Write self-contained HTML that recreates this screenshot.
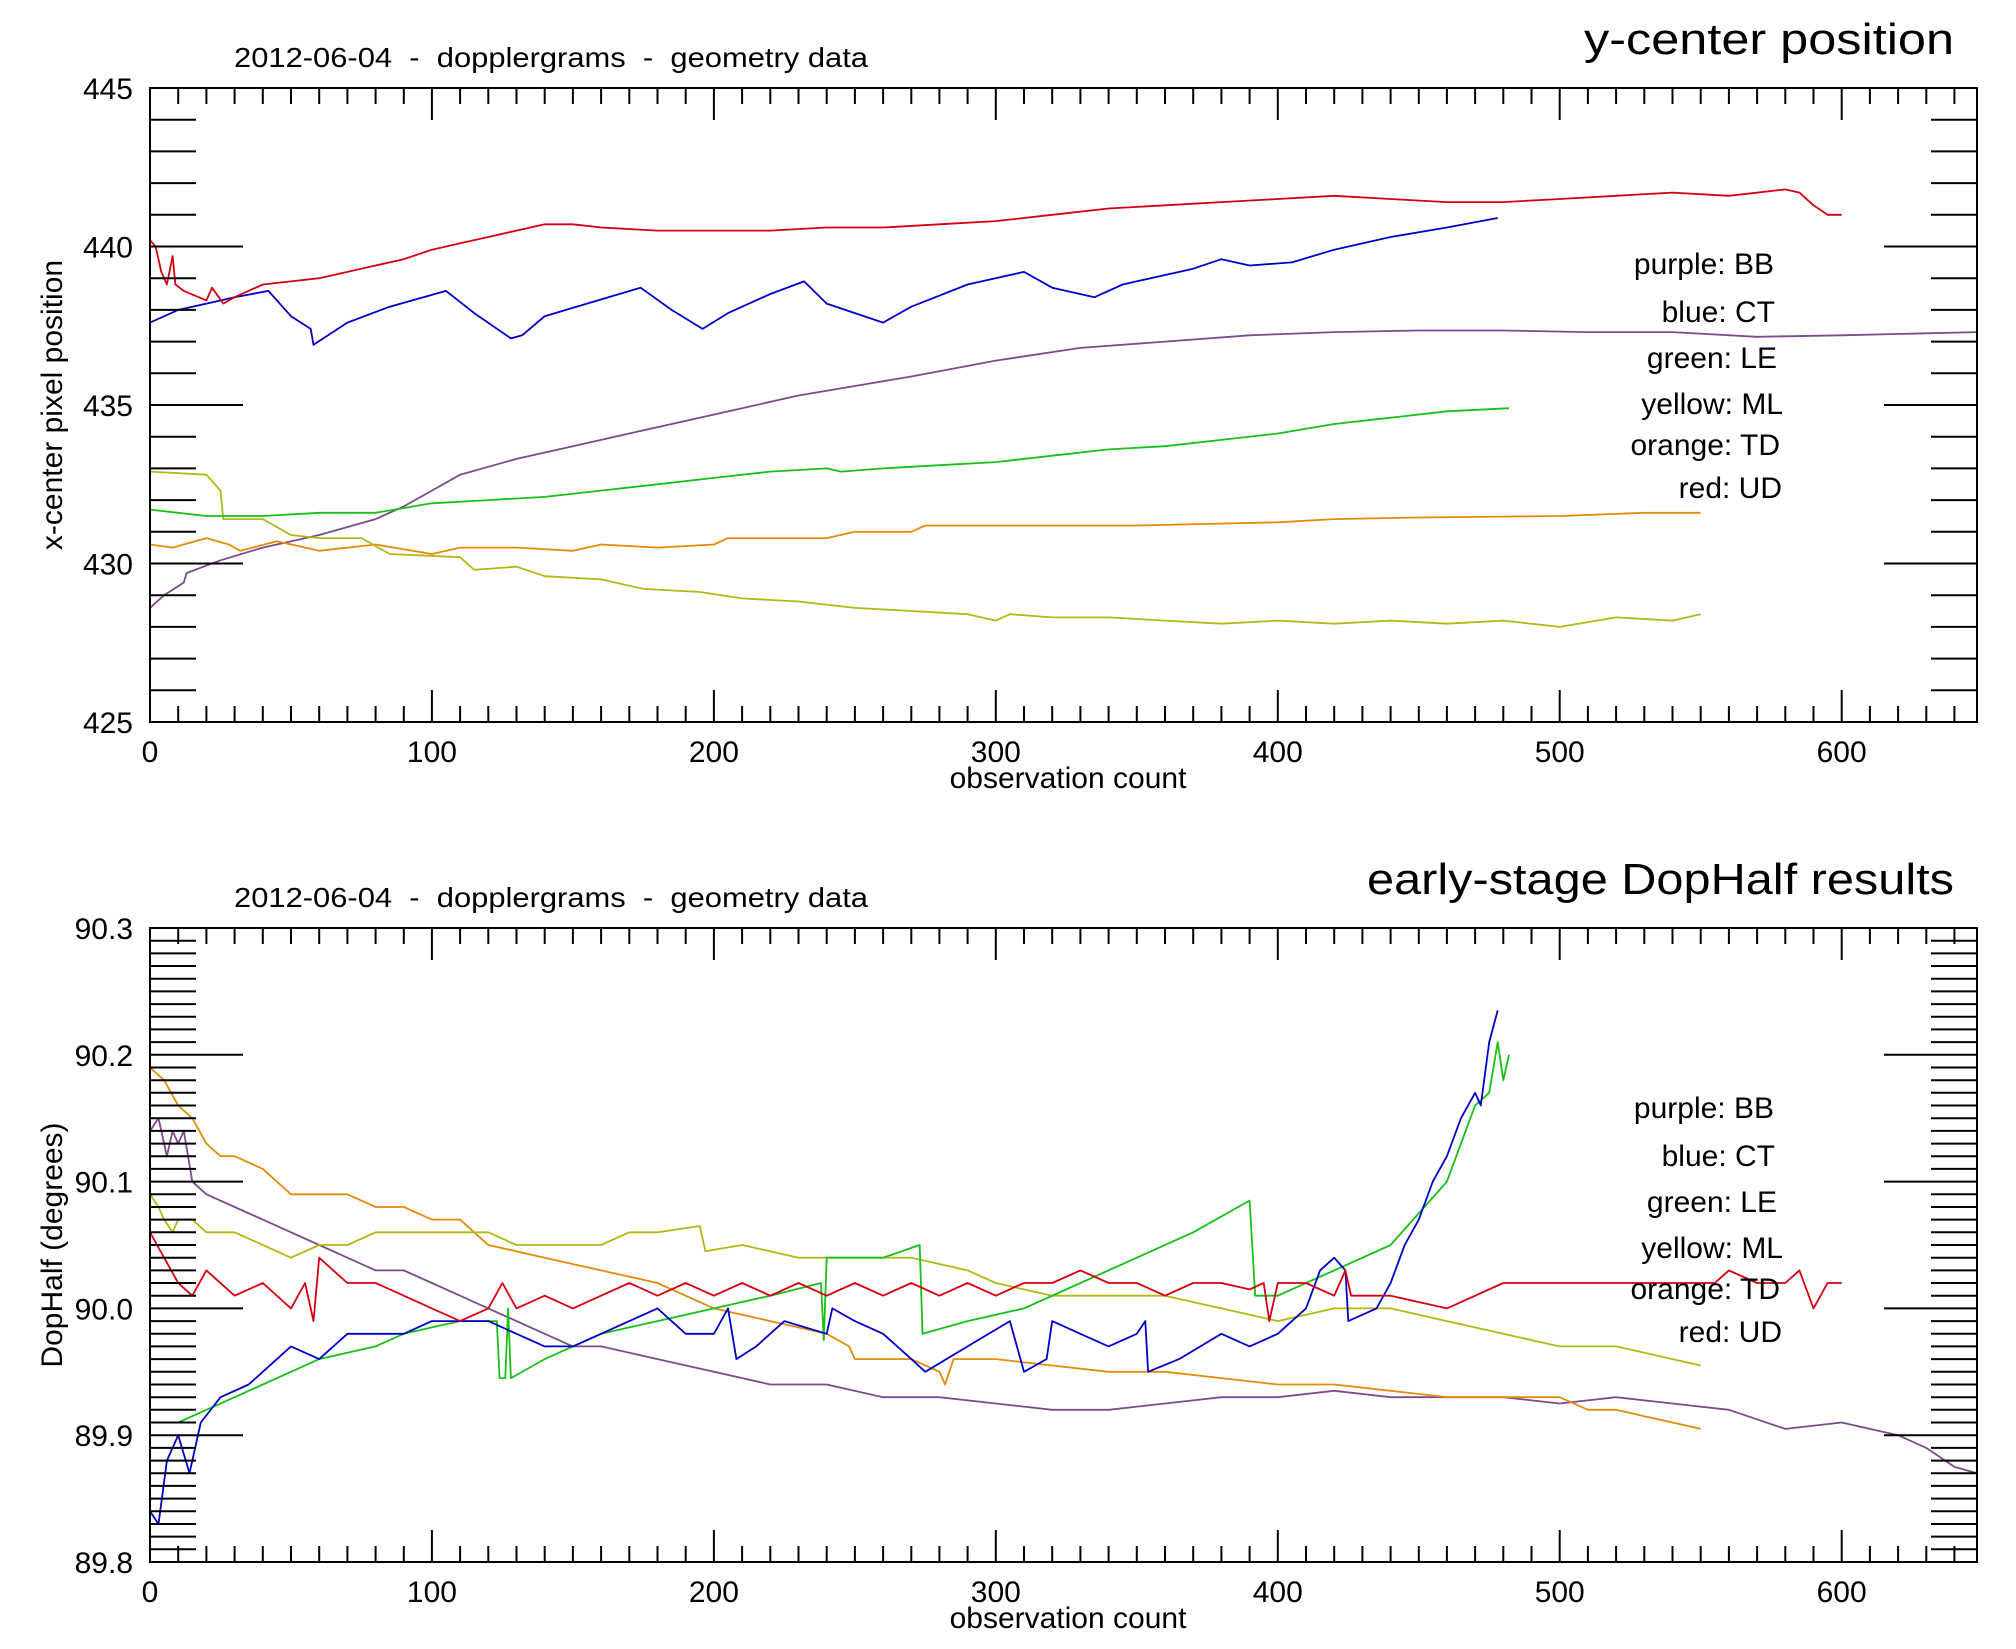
<!DOCTYPE html>
<html><head><meta charset="utf-8"><style>
html,body{margin:0;padding:0;background:#fff;}
svg{display:block;font-family:"Liberation Sans",sans-serif;}
</style></head><body>
<svg id="chart" width="2016" height="1649" viewBox="0 0 2016 1649" xmlns="http://www.w3.org/2000/svg"></svg>
<script>
// ---------- DATA ----------
const xTicks = [0,100,200,300,400,500,600];
const topYTicks = [425,430,435,440,445];
const botYTickVals = [89.8,89.9,90.0,90.1,90.2,90.3];
const botYTickLabels = ["89.8","89.9","90.0","90.1","90.2","90.3"];
const legendLabels = ["purple: BB","blue: CT","green: LE","yellow: ML","orange: TD","red: UD"];

const topRedX = [0,2,4,6,8,9,12,20,22,26,30,40,50,60,70,80,90,100,110,120,130,140,150,160,180,200,220,240,260,280,300,320,340,360,380,400,420,440,460,480,500,520,540,560,580,585,590,595,600];
const topRedY = [440.2,440.0,439.2,438.8,439.7,438.8,438.6,438.3,438.7,438.2,438.4,438.8,438.9,439.0,439.2,439.4,439.6,439.9,440.1,440.3,440.5,440.7,440.7,440.6,440.5,440.5,440.5,440.6,440.6,440.7,440.8,441.0,441.2,441.3,441.4,441.5,441.6,441.5,441.4,441.4,441.5,441.6,441.7,441.6,441.8,441.7,441.3,441.0,441.0];
const topBlueX = [0,10,20,30,42,50,57,58,70,85,105,115,128,132,140,155,174,185,196,205,220,232,240,260,270,290,310,320,335,345,370,380,390,405,420,440,460,478];
const topBlueY = [437.6,438.0,438.2,438.4,438.6,437.8,437.4,436.9,437.6,438.1,438.6,437.9,437.1,437.2,437.8,438.2,438.7,438.0,437.4,437.9,438.5,438.9,438.2,437.6,438.1,438.8,439.2,438.7,438.4,438.8,439.3,439.6,439.4,439.5,439.9,440.3,440.6,440.9];
const topPurpleX = [0,5,12,13,25,40,60,80,90,100,110,130,150,170,190,210,230,250,270,300,330,360,390,420,450,480,510,540,570,600,648];
const topPurpleY = [428.6,429.0,429.4,429.7,430.1,430.5,430.9,431.4,431.8,432.3,432.8,433.3,433.7,434.1,434.5,434.9,435.3,435.6,435.9,436.4,436.8,437.0,437.2,437.3,437.35,437.35,437.3,437.3,437.15,437.2,437.3];
const topGreenX = [0,10,20,40,60,80,100,120,140,160,180,200,220,240,245,260,280,300,320,340,360,380,400,420,440,460,482];
const topGreenY = [431.7,431.6,431.5,431.5,431.6,431.6,431.9,432.0,432.1,432.3,432.5,432.7,432.9,433.0,432.9,433.0,433.1,433.2,433.4,433.6,433.7,433.9,434.1,434.4,434.6,434.8,434.9];
const topOrangeX = [0,8,20,28,32,45,60,80,100,110,130,150,160,180,200,205,240,250,270,275,300,350,400,420,450,500,530,550];
const topOrangeY = [430.6,430.5,430.8,430.6,430.4,430.7,430.4,430.6,430.3,430.5,430.5,430.4,430.6,430.5,430.6,430.8,430.8,431.0,431.0,431.2,431.2,431.2,431.3,431.4,431.45,431.5,431.6,431.6];
const topYellowX = [0,20,25,26,40,50,60,75,85,110,115,130,140,160,175,195,210,230,250,270,290,300,305,320,340,360,380,400,420,440,460,480,500,520,540,550];
const topYellowY = [432.9,432.8,432.3,431.4,431.4,430.9,430.8,430.8,430.3,430.2,429.8,429.9,429.6,429.5,429.2,429.1,428.9,428.8,428.6,428.5,428.4,428.2,428.4,428.3,428.3,428.2,428.1,428.2,428.1,428.2,428.1,428.2,428.0,428.3,428.2,428.4];

const botRedX = [0,5,10,15,20,30,40,50,55,58,60,65,70,80,90,100,110,120,125,130,140,150,160,170,180,190,200,210,220,230,240,250,260,270,280,290,300,310,320,330,340,350,360,370,380,390,395,397,400,410,420,424,426,440,460,480,500,520,540,555,560,570,580,585,590,595,600];
const botRedY = [90.06,90.04,90.02,90.01,90.03,90.01,90.02,90.0,90.02,89.99,90.04,90.03,90.02,90.02,90.01,90.0,89.99,90.0,90.02,90.0,90.01,90.0,90.01,90.02,90.01,90.02,90.01,90.02,90.01,90.02,90.01,90.02,90.01,90.02,90.01,90.02,90.01,90.02,90.02,90.03,90.02,90.02,90.01,90.02,90.02,90.015,90.02,89.99,90.02,90.02,90.01,90.03,90.01,90.01,90.0,90.02,90.02,90.02,90.02,90.02,90.03,90.02,90.02,90.03,90.0,90.02,90.02];
const botBlueX = [0,3,6,10,14,18,25,35,45,50,60,70,80,90,100,110,120,130,140,150,160,170,180,190,200,205,208,215,225,240,242,250,260,270,275,290,305,310,318,320,330,340,350,353,354,365,380,390,400,410,415,420,424,425,435,440,445,450,455,460,465,470,472,475,478];
const botBlueY = [89.84,89.83,89.88,89.9,89.87,89.91,89.93,89.94,89.96,89.97,89.96,89.98,89.98,89.98,89.99,89.99,89.99,89.98,89.97,89.97,89.98,89.99,90.0,89.98,89.98,90.0,89.96,89.97,89.99,89.98,90.0,89.99,89.98,89.96,89.95,89.97,89.99,89.95,89.96,89.99,89.98,89.97,89.98,89.99,89.95,89.96,89.98,89.97,89.98,90.0,90.03,90.04,90.03,89.99,90.0,90.02,90.05,90.07,90.1,90.12,90.15,90.17,90.16,90.21,90.235];
const botGreenX = [0,10,20,30,40,50,60,70,80,90,100,110,120,123,124,126,127,128,140,150,160,170,180,200,220,238,239,240,260,273,274,290,310,330,350,370,390,392,400,420,440,460,470,475,478,480,482];
const botGreenY = [89.91,89.91,89.92,89.93,89.94,89.95,89.96,89.965,89.97,89.98,89.985,89.99,89.99,89.99,89.945,89.945,90.0,89.945,89.96,89.97,89.98,89.985,89.99,90.0,90.01,90.02,89.975,90.04,90.04,90.05,89.98,89.99,90.0,90.02,90.04,90.06,90.085,90.01,90.01,90.03,90.05,90.1,90.16,90.17,90.21,90.18,90.2];
const botYellowX = [0,3,5,8,10,15,20,30,40,50,60,70,80,90,100,110,120,130,140,150,160,170,180,195,197,210,230,250,270,290,300,320,340,360,380,400,420,440,460,480,500,520,540,550];
const botYellowY = [90.09,90.08,90.07,90.06,90.07,90.07,90.06,90.06,90.05,90.04,90.05,90.05,90.06,90.06,90.06,90.06,90.06,90.05,90.05,90.05,90.05,90.06,90.06,90.065,90.045,90.05,90.04,90.04,90.04,90.03,90.02,90.01,90.01,90.01,90.0,89.99,90.0,90.0,89.99,89.98,89.97,89.97,89.96,89.955];
const botOrangeX = [0,5,10,15,20,25,30,40,50,60,70,80,90,100,110,120,140,160,180,200,220,240,248,250,270,280,282,285,300,320,340,360,380,400,420,440,460,480,500,510,520,530,540,550];
const botOrangeY = [90.19,90.18,90.16,90.15,90.13,90.12,90.12,90.11,90.09,90.09,90.09,90.08,90.08,90.07,90.07,90.05,90.04,90.03,90.02,90.0,89.99,89.98,89.97,89.96,89.96,89.95,89.94,89.96,89.96,89.955,89.95,89.95,89.945,89.94,89.94,89.935,89.93,89.93,89.93,89.92,89.92,89.915,89.91,89.905];
const botPurpleX = [0,3,6,8,10,12,15,20,30,40,50,60,70,80,90,100,110,120,130,140,150,160,180,200,220,240,260,280,300,320,340,360,380,400,420,440,460,480,500,520,540,560,580,600,620,630,640,648];
const botPurpleY = [90.14,90.15,90.12,90.14,90.13,90.14,90.1,90.09,90.08,90.07,90.06,90.05,90.04,90.03,90.03,90.02,90.01,90.0,89.99,89.98,89.97,89.97,89.96,89.95,89.94,89.94,89.93,89.93,89.925,89.92,89.92,89.925,89.93,89.93,89.935,89.93,89.93,89.93,89.925,89.93,89.925,89.92,89.905,89.91,89.9,89.89,89.875,89.87];

// ---------- DRAW ----------
const NS = "http://www.w3.org/2000/svg";
const svg = document.getElementById("chart");
const X0 = 150, X1 = 1977, XMAX = 648;
const COL = {red:"#d40010",blue:"#0000c8",purple:"#7e4a8c",green:"#18c018",orange:"#e48c0a",yellow:"#b4b814"};
function mk(tag, attrs, parent){const e=document.createElementNS(NS,tag);for(const k in attrs)e.setAttribute(k,attrs[k]);(parent||svg).appendChild(e);return e;}
function xs(v){return X0 + v/XMAX*(X1-X0);}

function panel(name, top, bot, ymin, ymax, minorStep, majorVals, majorLabels, yTitle, bigTitle, bigW, series, legendBase){
  const g = mk("g",{});
  
  
  const ys = v => bot - (v-ymin)/(ymax-ymin)*(bot-top);
  const cid = name+"-clip";
  const cp = mk("clipPath",{id:cid},g); mk("rect",{x:X0,y:top,width:X1-X0,height:bot-top},cp);
  const sg = mk("g",{"clip-path":"url(#"+cid+")"},g);
  series.forEach(s=>{
    let d="";
    for(let i=0;i<s.x.length;i++) d+=(i?"L":"M")+xs(s.x[i]).toFixed(1)+","+ys(s.y[i]).toFixed(1);
    const p = mk("path",{d:d,fill:"none",stroke:s.c,"stroke-width":"1.8","stroke-linejoin":"round"},sg);
    
    
  });
  const fr = mk("rect",{x:X0,y:top,width:X1-X0,height:bot-top,fill:"none",stroke:"#000","stroke-width":"2"},g);
  
  
  let td="";
  for(let v=0; v<=XMAX; v+=10){
    const L = (v%100===0)?32:16, x=xs(v).toFixed(1);
    td+="M"+x+","+bot+"v"+(-L)+"M"+x+","+top+"v"+L;
  }
  const nSteps = Math.round((ymax-ymin)/minorStep);
  for(let i=0;i<=nSteps;i++){
    const v=ymin+i*minorStep, y=ys(v).toFixed(1);
    const isMaj = majorVals.some(m=>Math.abs(m-v)<minorStep/10);
    const L = isMaj?93:46;
    td+="M"+X0+","+y+"h"+L+"M"+X1+","+y+"h"+(-L);
  }
  mk("path",{d:td,stroke:"#000","stroke-width":"2",fill:"none"},g);
  xTicks.forEach(v=>{
    const t=mk("text",{x:xs(v),y:bot+40,"font-size":"30","text-anchor":"middle"},g); t.textContent=v;
    
    
  });
  majorLabels.forEach((lab,i)=>{
    const t=mk("text",{x:133,y:ys(majorVals[i])+11,"font-size":"30","text-anchor":"end"},g); t.textContent=lab;
    
    
  });
  const xt=mk("text",{x:1068,y:bot+66,"font-size":"30","text-anchor":"middle"},g); xt.textContent="observation count";
  
  
  const cy=(top+bot)/2;
  const yt=mk("text",{x:62,y:cy,"font-size":"30","text-anchor":"middle",transform:"rotate(-90 62 "+cy+")"},g); yt.textContent=yTitle;
  
  
  const st=mk("text",{x:234,y:top-21,"font-size":"28",textLength:"634",lengthAdjust:"spacingAndGlyphs","xml:space":"preserve"},g);
  st.setAttribute("style","white-space:pre");
  st.textContent="2012-06-04  -  dopplergrams  -  geometry data";
  
  
  const bt=mk("text",{x:1954-bigW,y:top-34,"font-size":"44",textLength:String(bigW),lengthAdjust:"spacingAndGlyphs"},g); bt.textContent=bigTitle;
  
  
  const lx=[1774,1775,1777,1783,1780,1782], ly=[0,48,94,140,181,224];
  legendLabels.forEach((lab,i)=>{
    const t=mk("text",{x:lx[i],y:legendBase+ly[i],"font-size":"30","text-anchor":"end"},g); t.textContent=lab;
    
    
  });
}

panel("top-panel", 88, 722, 425, 445, 1, topYTicks, topYTicks.map(String), "x-center pixel position", "y-center position", 370, [
  {n:"purple",c:COL.purple,x:topPurpleX,y:topPurpleY},
  {n:"orange",c:COL.orange,x:topOrangeX,y:topOrangeY},
  {n:"yellow",c:COL.yellow,x:topYellowX,y:topYellowY},
  {n:"green",c:COL.green,x:topGreenX,y:topGreenY},
  {n:"blue",c:COL.blue,x:topBlueX,y:topBlueY},
  {n:"red",c:COL.red,x:topRedX,y:topRedY}], 274);

panel("bottom-panel", 928, 1562, 89.8, 90.3, 0.01, botYTickVals, botYTickLabels, "DopHalf (degrees)", "early-stage DopHalf results", 587, [
  {n:"purple",c:COL.purple,x:botPurpleX,y:botPurpleY},
  {n:"orange",c:COL.orange,x:botOrangeX,y:botOrangeY},
  {n:"yellow",c:COL.yellow,x:botYellowX,y:botYellowY},
  {n:"green",c:COL.green,x:botGreenX,y:botGreenY},
  {n:"blue",c:COL.blue,x:botBlueX,y:botBlueY},
  {n:"red",c:COL.red,x:botRedX,y:botRedY}], 1118);
</script>
</body></html>
